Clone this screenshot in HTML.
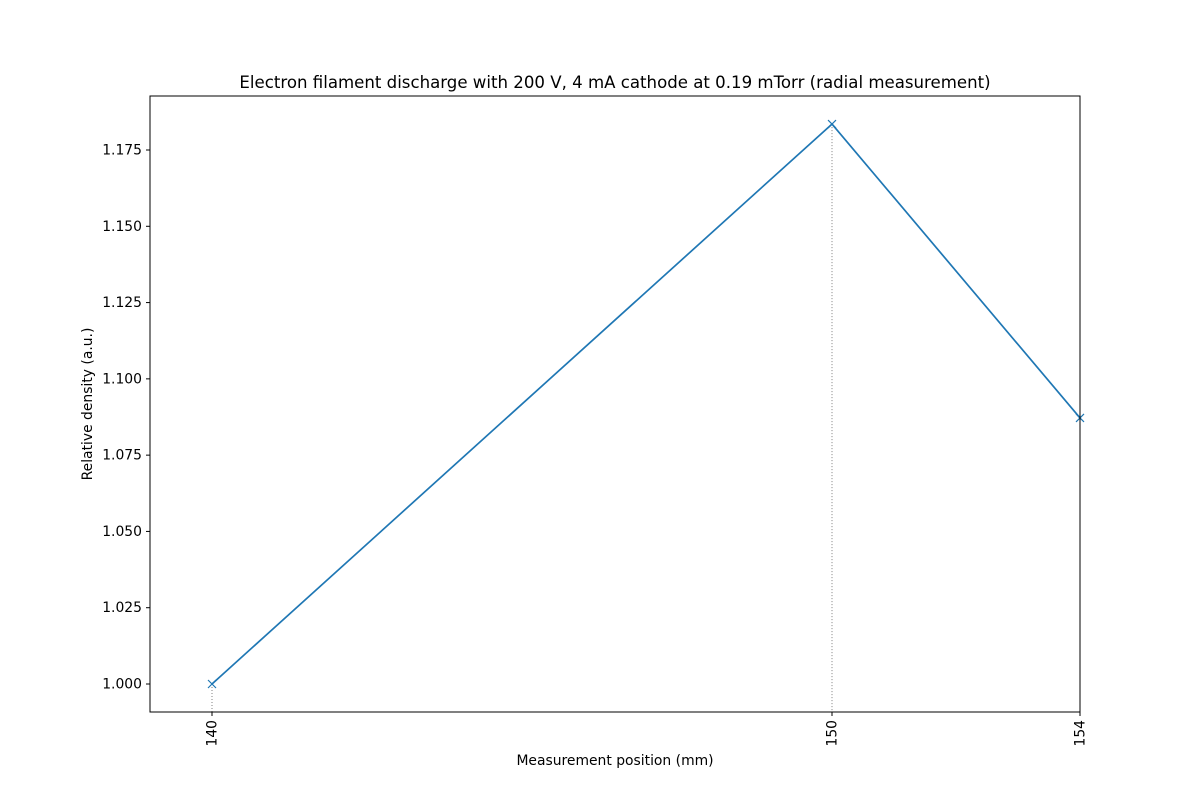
<!DOCTYPE html>
<html><head><meta charset="utf-8"><style>
body{margin:0;background:#fff;}
svg{font-family:"DejaVu Sans","Liberation Sans",sans-serif;}
</style></head><body>
<svg id="chart" width="1200" height="800" xmlns="http://www.w3.org/2000/svg">
<rect width="1200" height="800" fill="#fff"/>
<text x="615" y="88" text-anchor="middle" font-size="16.6">Electron filament discharge with 200 V, 4 mA cathode at 0.19 mTorr (radial measurement)</text>
<g id="plot"></g>
<rect x="150" y="96" width="930" height="616" fill="none" stroke="#000" stroke-width="1"/>
<text x="615" y="765" text-anchor="middle" font-size="13.9">Measurement position (mm)</text>
<text transform="translate(92,404) rotate(-90)" text-anchor="middle" font-size="13.9">Relative density (a.u.)</text>
</svg>
<script>
const positions=[140,150,154];
const densities=[1.000,1.1835,1.0872];
const yTicks=[1.000,1.025,1.050,1.075,1.100,1.125,1.150,1.175];
const yTickLabels=["1.000","1.025","1.050","1.075","1.100","1.125","1.150","1.175"];
const L=150,R=1080,T=96,B=712;
const xMin=139,xMax=154,yMin=0.99082,yMax=1.1927;
const xs=v=>L+(v-xMin)/(xMax-xMin)*(R-L);
const ys=v=>B-(v-yMin)/(yMax-yMin)*(B-T);
const NS="http://www.w3.org/2000/svg";
const g=document.getElementById('plot');
function mk(t,a){const e=document.createElementNS(NS,t);for(const k in a)e.setAttribute(k,a[k]);g.appendChild(e);return e;}
yTicks.forEach((v,i)=>{
 const t=mk('line',{x1:L-4,x2:L,y1:ys(v),y2:ys(v),stroke:'#000'});
 
 
 const tx=mk('text',{x:L-8,y:ys(v)+4.5,'text-anchor':'end','font-size':13.9});
 tx.textContent=yTickLabels[i];
 
 
});
positions.forEach((p,i)=>{
 const x=xs(p);
 const d=mk('line',{x1:x,x2:x,y1:ys(densities[i]),y2:B,stroke:'#808080','stroke-dasharray':'1,2','stroke-width':1});
 
 
 const t=mk('line',{x1:x,x2:x,y1:B,y2:B+4,stroke:'#000'});
 
 
 const tx=mk('text',{transform:`translate(${x+4.5},${B+8}) rotate(-90)`,'text-anchor':'end','font-size':13.9});
 tx.textContent=String(p);
 
 
});
const pl=mk('polyline',{points:positions.map((p,i)=>xs(p)+','+ys(densities[i])).join(' '),fill:'none',stroke:'#1f77b4','stroke-width':1.7});


positions.forEach((p,i)=>{
 const x=xs(p),y=ys(densities[i]);
 const m=mk('path',{d:`M${x-4},${y-4}L${x+4},${y+4}M${x-4},${y+4}L${x+4},${y-4}`,stroke:'#1f77b4','stroke-width':1.2});
 
 
});
</script>
</body></html>
